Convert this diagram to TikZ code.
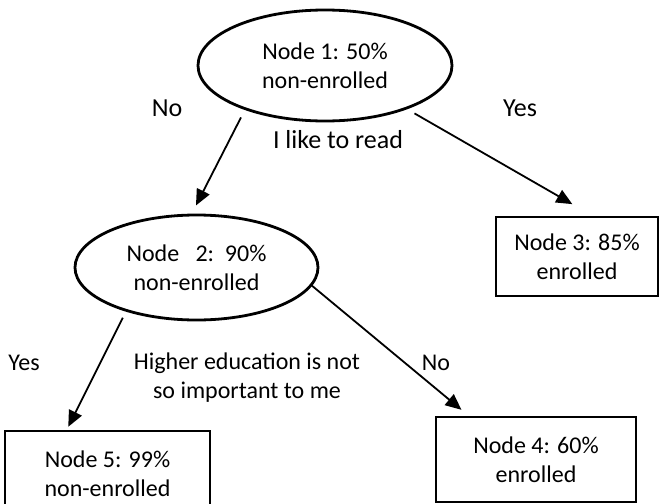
\documentclass[tikz,border=0pt]{standalone}
\usepackage{fontspec}
\setmainfont{Carlito}
\usetikzlibrary{arrows.meta}
\usetikzlibrary{shapes.geometric}
\tikzstyle{oval}=[ellipse, draw=black, line width=1.4pt, inner sep=0pt, align=center, font=\fontsize{12}{14.5}\selectfont]
\tikzstyle{leaf}=[rectangle, draw=black, line width=1.2pt, inner sep=0pt, align=center, font=\fontsize{12}{14.5}\selectfont]
\tikzstyle{lbl}=[align=center, font=\fontsize{12}{14.5}\selectfont]
\tikzstyle{biglbl}=[font=\fontsize{13}{15.5}\selectfont]
\tikzstyle{arr}=[line width=0.9pt, -{Triangle[length=8pt,width=7pt]}]

\begin{document}
\begin{tikzpicture}[x=0.5pt, y=-0.5pt]

      \useasboundingbox (0,0) rectangle (660,504);

      \node[oval, minimum width=127pt, minimum height=55.5pt] (n1) at (325,65.5) {Node 1: 50\%\\non-enrolled};
      \node[oval, minimum width=121.5pt, minimum height=52.5pt] (n2) at (196.5,267.5) {Node\ \ \ 2:\ \ 90\%\\non-enrolled};
      \node[leaf, minimum width=81pt, minimum height=39.5pt] (n3) at (577,256.5) {Node 3: 85\%\\enrolled};
      \node[leaf, minimum width=100pt, minimum height=42.5pt] (n4) at (536,459.5) {Node 4: 60\%\\enrolled};
      \node[leaf, minimum width=102.5pt, minimum height=42.5pt] (n5) at (107.5,473.5) {Node 5: 99\%\\non-enrolled};

      \node[biglbl] (no1) at (167,108) {No};
      \node[biglbl] (yes1) at (520,108) {Yes};
      \node[biglbl] (q1) at (338,140) {I like to read};
      \node[lbl] (yes2) at (24,363) {Yes};
      \node[lbl] (q2) at (247,377.5) {Higher education is not\\so important to me};
      \node[lbl] (no2) at (436,363) {No};

      \draw[arr, shorten <=4.2pt, shorten >=4.6pt] (n1.209.7) -- (n2.95.4);
      \draw[arr, shorten <=4.2pt, shorten >=11.7pt] (n1.332.9) -- (n3.69.6);
      \draw[arr, shorten <=3.4pt, shorten >=1.7pt] (n2.212.6) -- (n5.133);
      \draw[arr, shorten <=-1pt, shorten >=4.7pt] (n2.351.7) -- (n4.147.1);

    \end{tikzpicture}
\end{document}
